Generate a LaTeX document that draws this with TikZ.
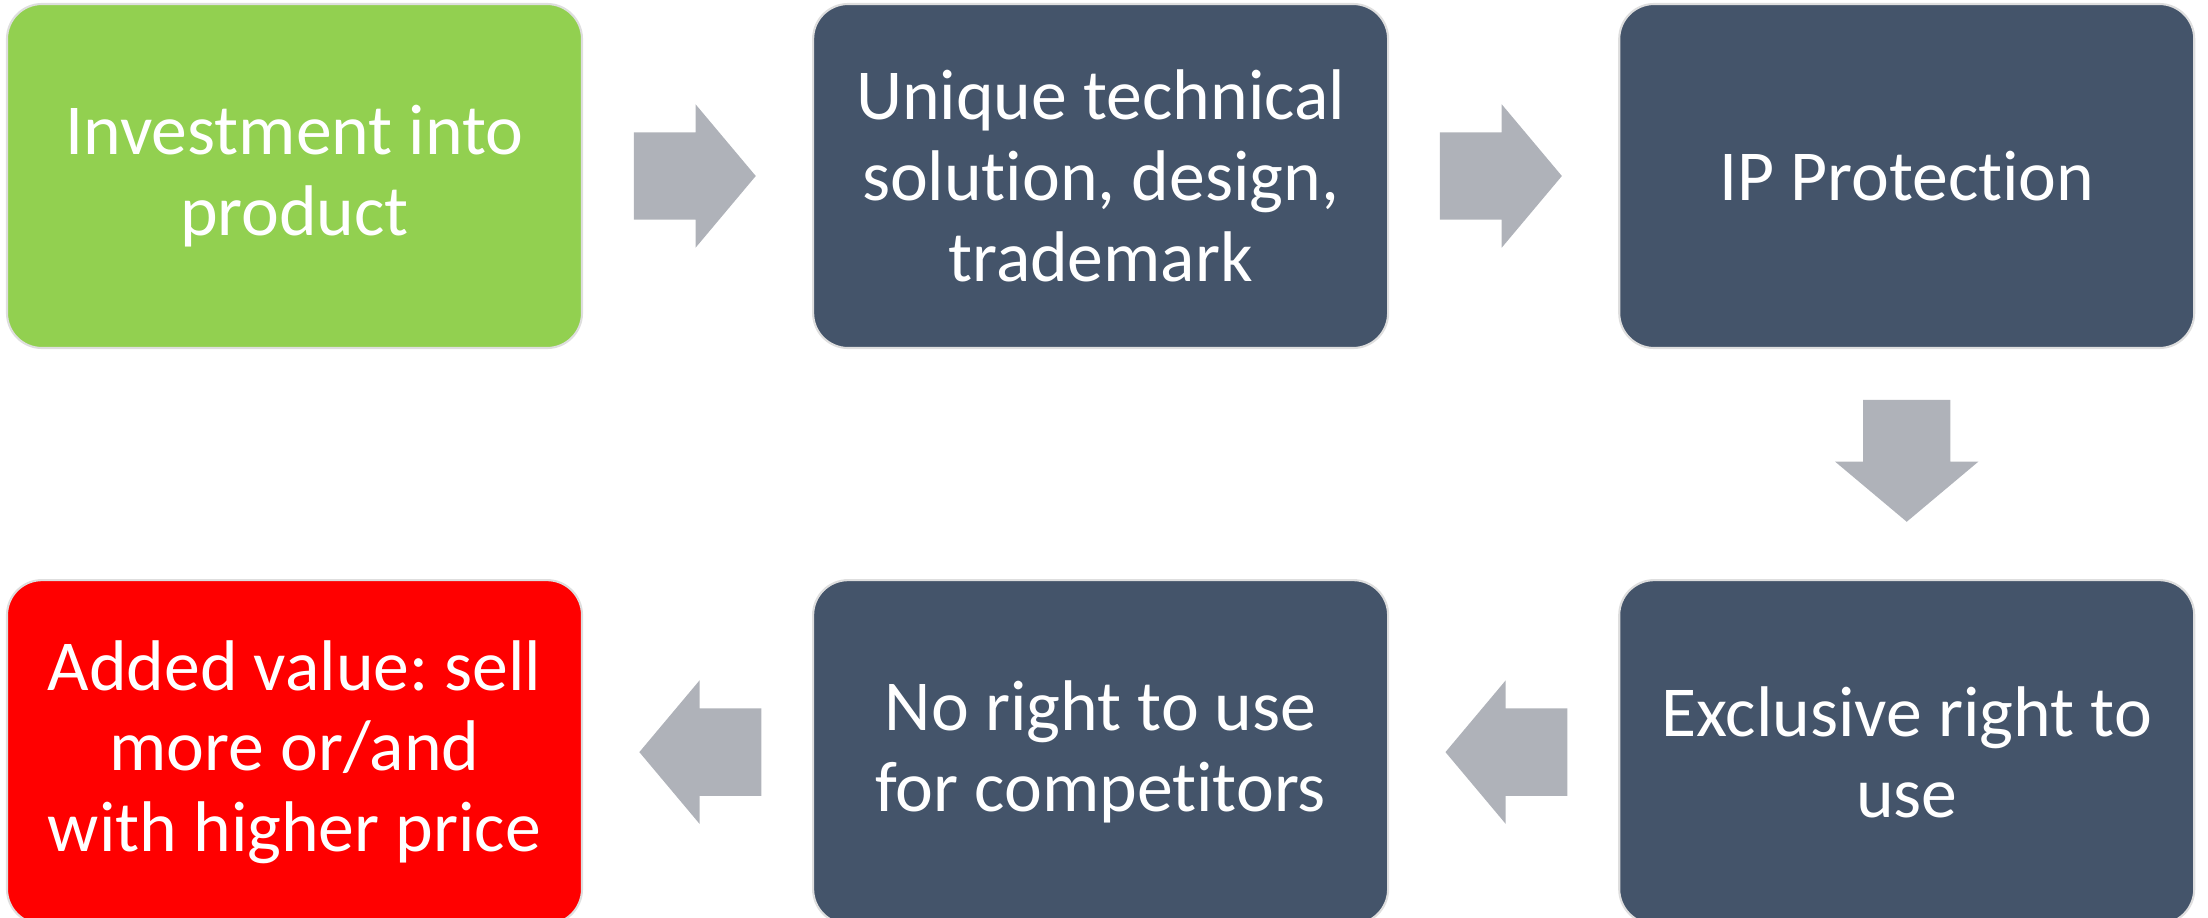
\documentclass[tikz,border=0pt]{standalone}
\usepackage{fontspec}
\setmainfont{Carlito}[Ligatures=NoCommon]
\frenchspacing
\usetikzlibrary{shapes.arrows, positioning}

\definecolor{stagegreen}{HTML}{92D050}
\definecolor{stageslate}{HTML}{44546A}
\definecolor{stagered}{HTML}{FF0000}
\definecolor{flowgray}{HTML}{AFB2B9}

\tikzset{
  stage/.style={rectangle, rounded corners=0.35cm, minimum width=5.75cm, minimum height=3.44cm,
    draw=black!13, line width=0.6pt, text=white, align=center, inner sep=0pt,
    font=\fontsize{20.4pt}{23pt}\selectfont},
  flow/.style={single arrow, fill=flowgray, draw=none, inner xsep=0pt, inner ysep=0.43cm, anchor=tail,
    minimum height=1.22cm, minimum width=1.42cm, single arrow head extend=0.28cm,
    single arrow tip angle=100},
  flowdown/.style={flow, shape border rotate=270, inner xsep=0.43cm, inner ysep=0pt}
}

\begin{document}
\begin{tikzpicture}[node distance=2.3cm and 2.29cm]
        \useasboundingbox (0,0) rectangle (22.08,-9.18);
        \node[stage, fill=stagegreen] (invest) at (2.945,-1.76) {Investment into\\product};
        \node[stage, fill=stageslate, right=of invest] (unique) {Unique technical\\solution, design,\\trademark};
        \node[stage, fill=stageslate, right=of unique] (ip) {IP Protection};
        \node[stage, fill=stageslate, below=of ip] (excl) {Exclusive right to\\use};
        \node[stage, fill=stageslate, left=of excl] (noright) {No right to use\\for competitors};
        \node[stage, fill=stagered, left=of noright] (value) {Added value: sell\\more or/and\\with higher price};

        \node[flow] (f1) at ([xshift=0.5cm]invest.east) {};
        \node[flow] (f2) at ([xshift=0.5cm]unique.east) {};
        \node[flowdown] (f3) at ([yshift=-0.5cm]ip.south) {};
        \node[flow, shape border rotate=180] (f4) at ([xshift=-0.5cm]excl.west) {};
        \node[flow, shape border rotate=180] (f5) at ([xshift=-0.5cm]noright.west) {};
      \end{tikzpicture}
\end{document}
